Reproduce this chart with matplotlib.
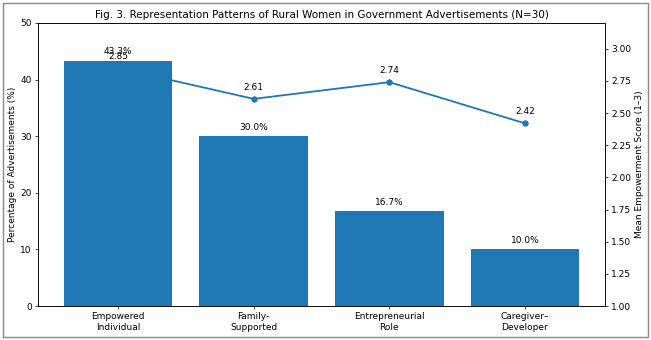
import matplotlib.pyplot as plt
from matplotlib.patches import Rectangle

categories = ["Empowered\nIndividual", "Family-\nSupported", "Entrepreneurial\nRole", "Caregiver–\nDeveloper"]
pct_ads = [43.3, 30.0, 16.7, 10.0]
mean_score = [2.85, 2.61, 2.74, 2.42]

W, H, DPI = 651, 340, 65.1
fig = plt.figure(figsize=(W / DPI, H / DPI), dpi=DPI)
ax1 = fig.add_axes([38 / W, 1 - 306 / H, (605 - 38) / W, (306 - 23) / H])
ax2 = ax1.twinx()

x = list(range(len(categories)))
bars = ax1.bar(x, pct_ads, color="#1f77b4", width=0.8)
ax1.bar_label(bars, labels=[f"{v:.1f}%" for v in pct_ads], padding=5)
ax1.set_ylim(0, 50)
ax1.set_ylabel("Percentage of Advertisements (%)")
ax1.set_xticks(x)
ax1.set_xticklabels(categories)

ax2.plot(x, mean_score, marker="o", color="#1f77b4", linewidth=2, markersize=6)
for xi, s in zip(x, mean_score):
    ax2.annotate(f"{s:.2f}", (xi, s), xytext=(0, 8), textcoords="offset points",
                 ha="center", va="bottom")
ax2.set_ylim(1.0, 3.2)
ax2.set_yticks([1.0, 1.25, 1.5, 1.75, 2.0, 2.25, 2.5, 2.75, 3.0])
ax2.set_ylabel("Mean Empowerment Score (1–3)")

# bars sit in front of the line
ax1.set_zorder(ax2.get_zorder() + 1)
ax1.patch.set_visible(False)

ax1.set_title("Fig. 3. Representation Patterns of Rural Women in Government Advertisements (N=30)",
              fontsize=11.5)

fig.patches.append(Rectangle((3 / W, 3 / H), 1 - 6 / W, 1 - 6 / H, transform=fig.transFigure,
                             fill=False, edgecolor="#8c8c8c", linewidth=1.6))

fig.savefig("out.png", dpi=DPI)
